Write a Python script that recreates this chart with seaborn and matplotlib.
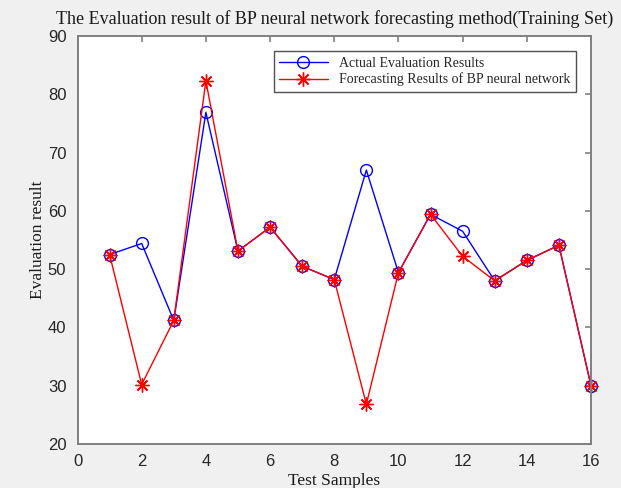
import matplotlib
matplotlib.use("Agg")
import matplotlib.pyplot as plt
import seaborn as sns
import numpy as np

samples = list(range(1, 17))
actual = [52.5, 54.4, 41.2, 76.9, 53.1, 57.2, 50.5, 48.2, 67.0, 49.4, 59.4, 56.5, 48.0, 51.5, 54.1, 30.0]
forecast = [52.5, 30.2, 41.2, 82.3, 53.1, 57.2, 50.5, 48.2, 26.8, 49.4, 59.4, 52.2, 48.0, 51.5, 54.1, 30.0]
xticks = list(range(0, 17, 2))
yticks = list(range(20, 91, 10))

sns.set_style("white")
plt.rcParams['font.family'] = ['Liberation Serif', 'DejaVu Serif']

fig = plt.figure(figsize=(6.21, 4.88), dpi=100, facecolor='#f0f0f0')
ax = fig.add_axes([77.5/621, 1-444/488, (591-77.5)/621, (444-36)/488])
ax.set_facecolor('white')

sns.lineplot(x=samples, y=actual, ax=ax, color='blue', lw=1.0, marker='o',
             markersize=8.5, markerfacecolor='none', markeredgecolor='blue',
             markeredgewidth=1.0, label='Actual Evaluation Results', clip_on=False)
sns.lineplot(x=samples, y=forecast, ax=ax, color='red', lw=1.0, marker=(8, 2, 0),
             markersize=10, markerfacecolor='red', markeredgecolor='red',
             markeredgewidth=1.0, label='Forecasting Results of BP neural network',
             clip_on=False)

ax.set_xlim(0, 16)
ax.set_ylim(20, 90)
ax.set_xticks(xticks)
ax.set_yticks(yticks)
for lab in ax.get_xticklabels() + ax.get_yticklabels():
    lab.set_family(['Liberation Sans', 'DejaVu Sans'])
    lab.set_fontsize(12)
    lab.set_color('#262626')
ax.tick_params(axis='x', pad=7)
ax.tick_params(axis='y', pad=8)
ax.tick_params(direction='in', top=True, right=True, length=4, width=1.2,
               colors='#808080', labelcolor='#262626')
for s in ax.spines.values():
    s.set_color('#808080')
    s.set_linewidth(1.4)

ax.set_title('The Evaluation result of BP neural network forecasting method(Training Set)',
             fontsize=13, color='#1a1a1a', pad=9)
ax.set_xlabel('Test Samples', fontsize=12.5, color='#1a1a1a', labelpad=3)
ax.set_ylabel('Evaluation result', fontsize=12.5, color='#1a1a1a', labelpad=1)

leg = ax.legend(loc='upper right', fontsize=10, frameon=True, fancybox=False,
                edgecolor='#262626', borderaxespad=1.1, handlelength=3.5,
                labelspacing=0.2, borderpad=0.4)
leg.get_frame().set_linewidth(1.0)

fig.savefig('out.png', dpi=100, facecolor=fig.get_facecolor())
